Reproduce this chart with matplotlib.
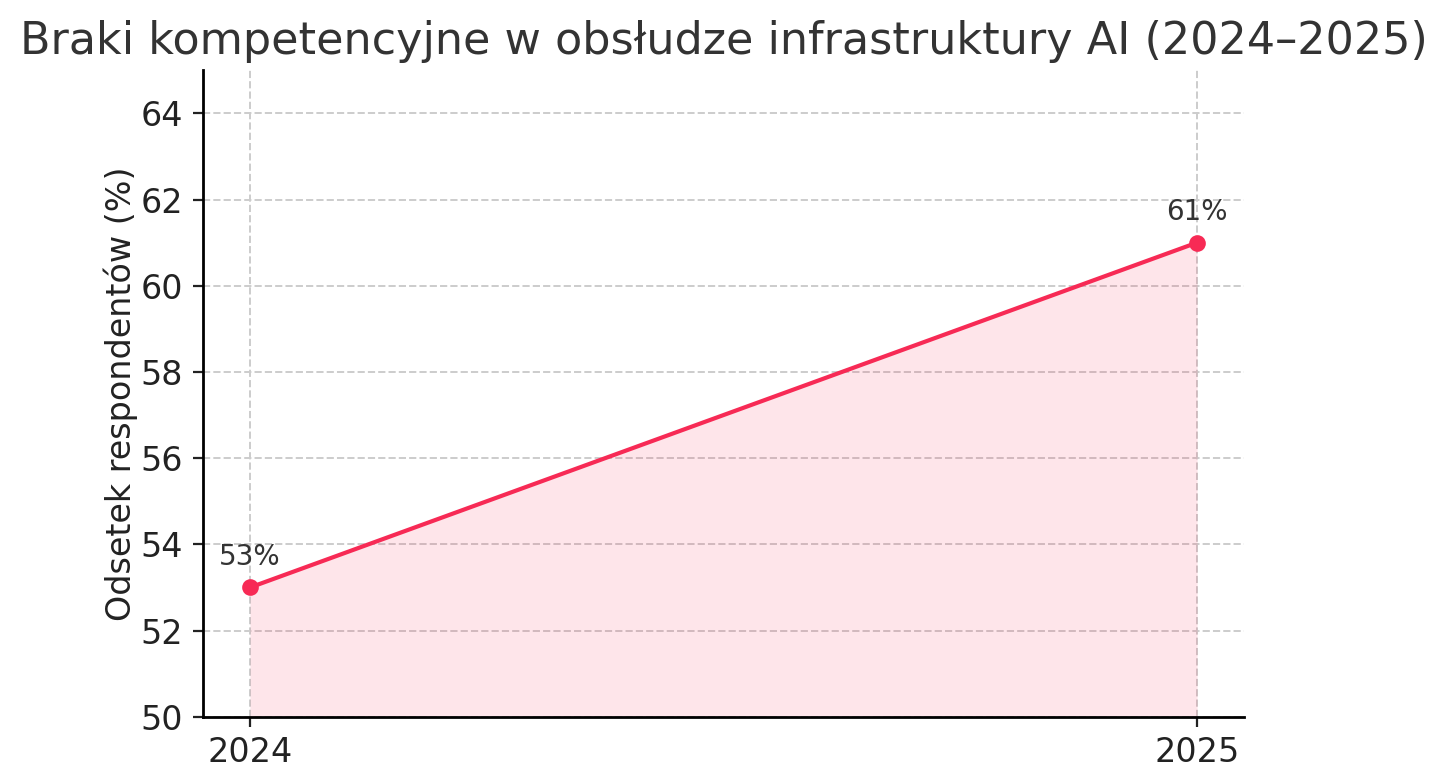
import matplotlib
matplotlib.use('Agg')
import matplotlib.pyplot as plt

# Data
years = [2024, 2025]
shares = [53, 61]
labels = ['53%', '61%']

LINE_COLOR = '#F72A55'

fig = plt.figure(figsize=(7.235, 3.9), dpi=200)
ax = fig.add_axes([0.140, 0.081, 0.720, 0.829])

ax.fill_between(years, shares, 50, color=LINE_COLOR, alpha=0.12, linewidth=0)
ax.plot(years, shares, color=LINE_COLOR, lw=1.5, marker='o', markersize=5)

for x, y, lab in zip(years, shares, labels):
    ax.annotate(lab, (x, y), xytext=(0, 6), textcoords='offset points',
                ha='center', va='bottom', fontsize=10, color='#333333')

ax.set_ylim(50, 65)
ax.set_xticks(years)
ax.set_xticklabels([str(y) for y in years])
ax.set_yticks(range(50, 65, 2))
ax.tick_params(labelsize=12, colors='#222222')
ax.set_ylabel('Odsetek respondentów (%)', fontsize=12, color='#222222', labelpad=1)
ax.set_title('Braki kompetencyjne w obsłudze infrastruktury AI (2024–2025)',
             fontsize=16, color='#333333')

ax.grid(True, linestyle='--', color='#cccccc', linewidth=0.7)
ax.set_axisbelow(True)
for side in ['top', 'right']:
    ax.spines[side].set_visible(False)
for side in ['left', 'bottom']:
    ax.spines[side].set_linewidth(1.0)

fig.savefig('out.png', dpi=200)
